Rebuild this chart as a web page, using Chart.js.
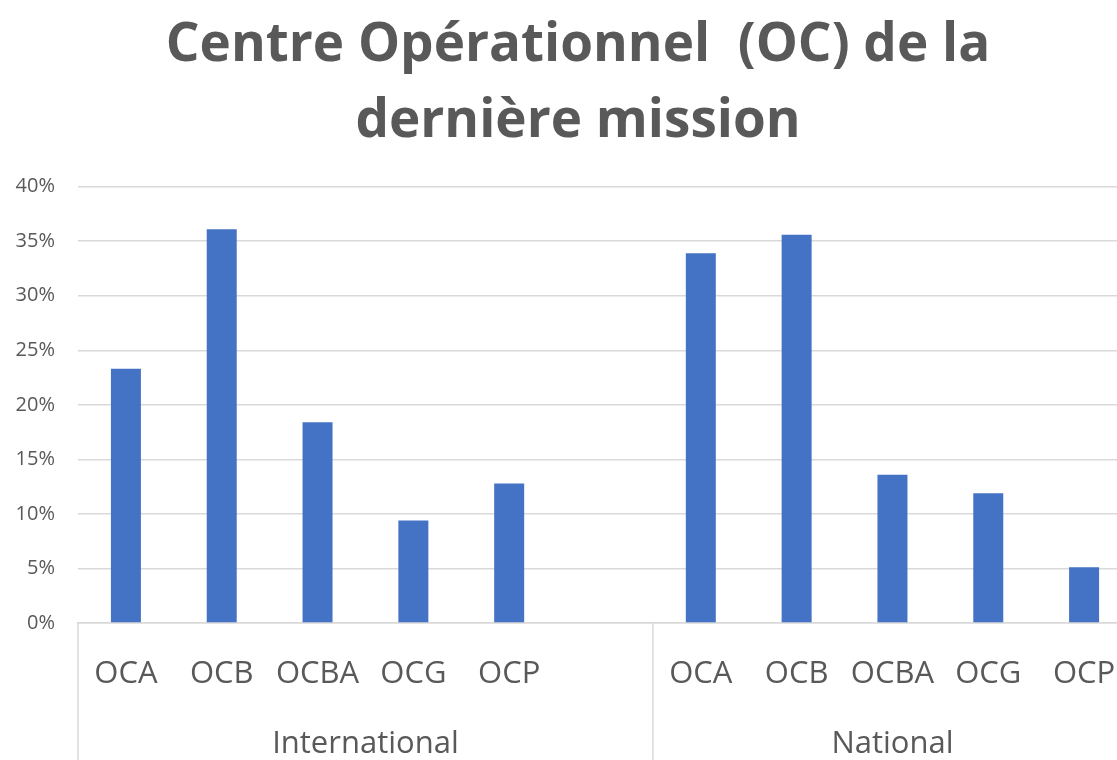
<!DOCTYPE html>
<html>
<head>
<meta charset="utf-8">
<title>Centre Opérationnel (OC) de la dernière mission</title>
<script src="https://cdn.jsdelivr.net/npm/chart.js@4/dist/chart.umd.min.js"></script>
<style>
  html, body { margin: 0; padding: 0; background: #fff; overflow: hidden; }
  #wrap { position: relative; width: 1156px; height: 760px; }
</style>
</head>
<body>
<div id="wrap"><canvas id="chart"></canvas></div>
<script>
// Data (percent of respondents)
const titleLines = ["Centre Opérationnel  (OC) de la", "dernière mission"];
const categories = ["OCA", "OCB", "OCBA", "OCG", "OCP", "", "OCA", "OCB", "OCBA", "OCG", "OCP"];
const groupLabels = ["International", "National"];
const groupSizes = [6, 5]; // how many categories each group spans
const values = [23.3, 36.1, 18.4, 9.4, 12.8, null, 33.9, 35.6, 13.6, 11.9, 5.1];
const yMax = 40;
const yStep = 5;

const TEXT = "#595959";
const GRID = "#d9d9d9";
const BAR = "#4472C4";
const FONT = "'Open Sans', 'Noto Sans', sans-serif";

// Second level of the category axis: group separators and group names
const groupAxis = {
  id: "groupAxis",
  beforeDraw(chart) {
    // let the y tick labels use the left padding instead of being clipped
    chart.scales.y.left = 0;
  },
  afterDraw(chart) {
    const xs = chart.scales.x;
    const ctx = chart.ctx;
    const step = xs.getPixelForValue(1) - xs.getPixelForValue(0);
    ctx.save();
    ctx.strokeStyle = GRID;
    ctx.lineWidth = 1.5;
    ctx.fillStyle = TEXT;
    ctx.font = "31px " + FONT;
    ctx.textAlign = "center";
    ctx.textBaseline = "middle";
    let start = 0;
    groupSizes.forEach((size, i) => {
      const left = xs.getPixelForValue(start) - step / 2;
      const right = xs.getPixelForValue(start + size - 1) + step / 2;
      ctx.beginPath();
      ctx.moveTo(left, xs.top);
      ctx.lineTo(left, chart.height);
      ctx.stroke();
      if (i === groupSizes.length - 1) {
        ctx.beginPath();
        ctx.moveTo(right, xs.top);
        ctx.lineTo(right, chart.height);
        ctx.stroke();
      }
      ctx.fillText(groupLabels[i], (left + right) / 2, xs.top + 121);
      start += size;
    });
    ctx.restore();
  },
};

new Chart(document.getElementById("chart"), {
  type: "bar",
  data: {
    labels: categories,
    datasets: [{
      data: values,
      backgroundColor: BAR,
      borderWidth: 0,
      barPercentage: 0.313,
      categoryPercentage: 1.0,
    }],
  },
  options: {
    responsive: true,
    maintainAspectRatio: false,
    animation: false,
    layout: { padding: { left: 24, right: 24, top: 0, bottom: 0 } },
    plugins: {
      legend: { display: false },
      tooltip: { enabled: false },
      title: {
        display: true,
        text: titleLines,
        color: TEXT,
        font: { family: FONT, size: 53, weight: "bold", lineHeight: 1.45 },
        padding: { top: 7, bottom: 26 },
      },
    },
    scales: {
      x: {
        grid: { display: false, drawTicks: false },
        border: { display: true, color: GRID, width: 1.5 },
        ticks: {
          color: TEXT,
          font: { family: FONT, size: 31 },
          padding: 33,
          autoSkip: false,
          maxRotation: 0,
        },
        afterFit(scale) { scale.height = 137; },
      },
      y: {
        min: 0,
        max: yMax,
        grid: { color: GRID, lineWidth: 1.5, drawTicks: false },
        border: { display: false },
        ticks: {
          stepSize: yStep,
          color: TEXT,
          font: { family: FONT, size: 20 },
          padding: 23,
          callback: (v) => v + "%",
        },
        afterFit(scale) { scale.width = 54; },
      },
    },
  },
  plugins: [groupAxis],
});
</script>
</body>
</html>
